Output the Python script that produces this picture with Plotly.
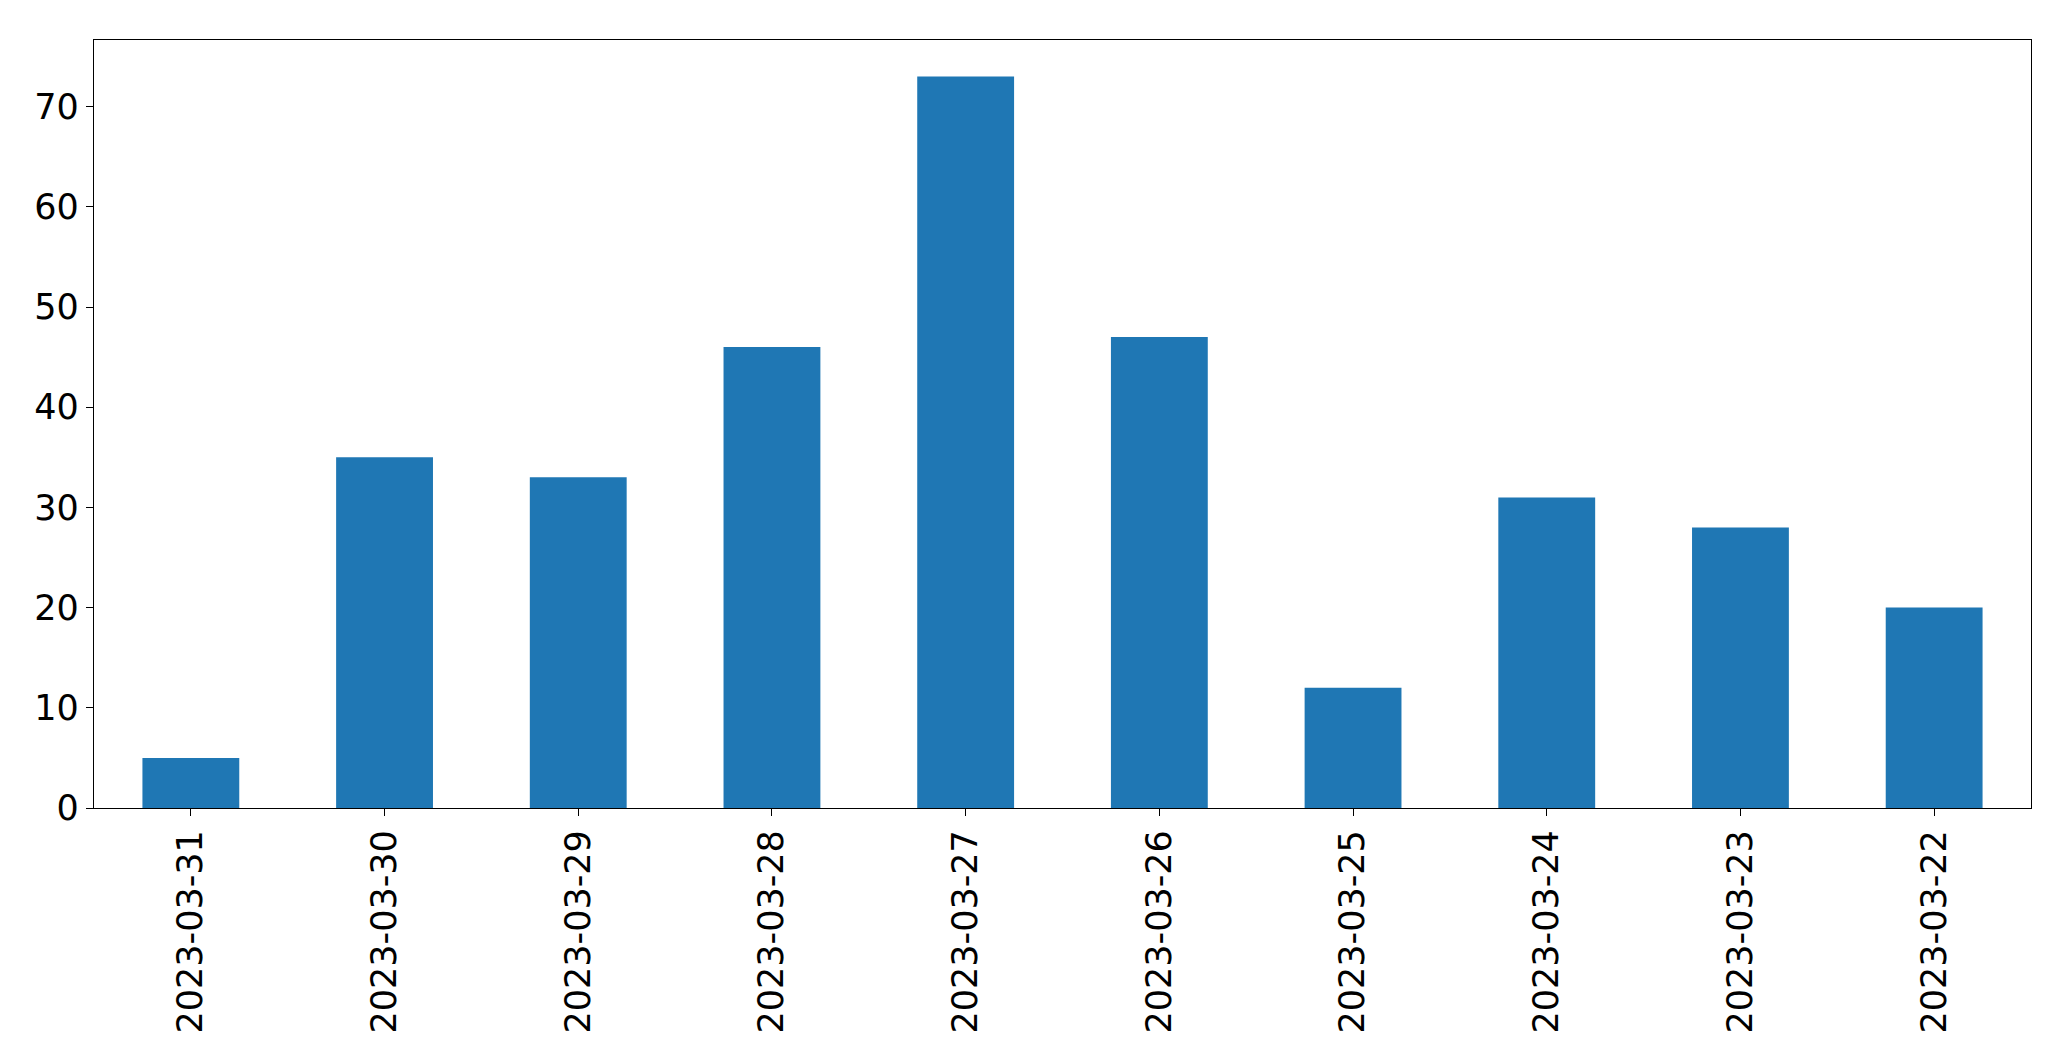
import plotly.graph_objects as go

dates = ["2023-03-31","2023-03-30","2023-03-29","2023-03-28","2023-03-27",
         "2023-03-26","2023-03-25","2023-03-24","2023-03-23","2023-03-22"]
counts = [5, 35, 33, 46, 73, 47, 12, 31, 28, 20]

fig = go.Figure(go.Bar(x=dates, y=counts, width=0.5, marker_color="#1f77b4",
                       marker_line_width=0))
fig.update_layout(
    width=2071, height=1061, plot_bgcolor="white", paper_bgcolor="white",
    margin=dict(l=86, r=48, t=32, b=261, autoexpand=False),
    font=dict(family="DejaVu Sans", size=35, color="black"),
    showlegend=False,
)
fig.update_xaxes(type="category", range=[-0.5, 9.5], tickangle=-90,
                 showline=True, linecolor="black", mirror=True, linewidth=1.3,
                 ticks="outside", ticklen=7, tickcolor="black", showgrid=False)
fig.update_yaxes(range=[0, 76.65], tickvals=[0,10,20,30,40,50,60,70],
                 showline=True, linecolor="black", mirror=True, linewidth=1.3,
                 ticks="outside", ticklen=7, tickcolor="black", showgrid=False,
                 zeroline=False)
fig.write_html("out.html")
